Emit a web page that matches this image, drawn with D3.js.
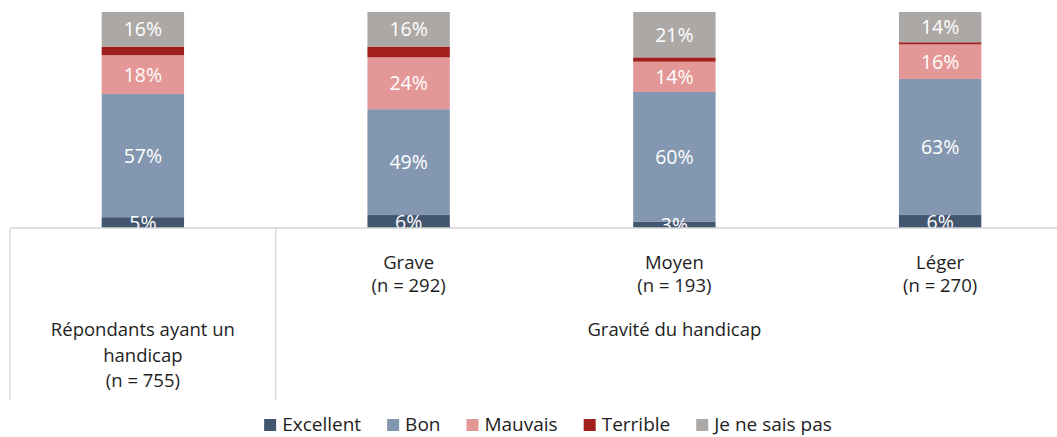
<!DOCTYPE html>
<html>
<head>
<meta charset="utf-8">
<script src="https://cdn.jsdelivr.net/npm/d3@7/dist/d3.min.js"></script>
<style>
  html, body { margin: 0; padding: 0; background: #fff; }
  svg { display: block; }
  text { font-family: "Open Sans", "Liberation Sans", sans-serif; }
</style>
</head>
<body>
<svg id="chart" width="1057" height="437"></svg>
<script>
const categories = ["Répondants", "Grave", "Moyen", "Léger"];
const categoryLines = [
  [],
  ["Grave", "(n = 292)"],
  ["Moyen", "(n = 193)"],
  ["Léger", "(n = 270)"]
];
const groupLabelLeft = ["Répondants ayant un", "handicap", "(n = 755)"];
const groupLabelRight = ["Gravité du handicap"];
const seriesNames = ["Excellent", "Bon", "Mauvais", "Terrible", "Je ne sais pas"];
const excellent = [5, 6, 3, 6];
const bon = [57, 49, 60, 63];
const mauvais = [18, 24, 14, 16];
const terrible = [4, 5, 2, 1];
const jeNeSaisPas = [16, 16, 21, 14];
const colors = ["#435670", "#8397b0", "#e39797", "#a11f1d", "#aca8a6"];
const showLabels = [true, true, true, false, true];

const seriesValues = [excellent, bon, mauvais, terrible, jeNeSaisPas];
const rows = categories.map((c, i) => {
  const r = { cat: c };
  seriesNames.forEach((s, k) => r[s] = seriesValues[k][i]);
  return r;
});

const svg = d3.select("#chart");
const axisY = 228;
const x = d3.scaleBand().domain(categories).range([10, 1073]).paddingInner(0).paddingOuter(0);
const y = d3.scaleLinear().domain([0, 100]).range([axisY, 12]);
const barW = x.bandwidth() * 0.31;
const textColor = "#1e1e1e";

const stack = d3.stack().keys(seriesNames);
const stacked = stack(rows);

svg.append("defs").append("clipPath").attr("id", "plotclip")
  .append("rect").attr("x", 0).attr("y", 0).attr("width", 1057).attr("height", axisY);

const plot = svg.append("g").attr("clip-path", "url(#plotclip)");

const layers = plot.selectAll("g.layer").data(stacked).enter().append("g")
  .attr("class", "layer")
  .attr("fill", (d, i) => colors[i]);

layers.selectAll("rect").data(d => d).enter().append("rect")
  .attr("x", d => x(d.data.cat) + x.bandwidth() / 2 - barW / 2)
  .attr("width", barW)
  .attr("y", d => y(d[1]))
  .attr("height", d => y(d[0]) - y(d[1]));

stacked.forEach((layer, i) => {
  if (!showLabels[i]) return;
  plot.append("g").selectAll("text").data(layer).enter().append("text")
    .attr("x", d => x(d.data.cat) + x.bandwidth() / 2)
    .attr("y", d => (y(d[0]) + y(d[1])) / 2)
    .attr("dy", "0.36em")
    .attr("text-anchor", "middle")
    .attr("fill", "#ffffff")
    .attr("font-size", 19.5)
    .text(d => (d[1] - d[0]) + "%");
});

// axis line and group separators
const axisG = svg.append("g");
const xAxis = d3.axisBottom(x).tickSize(0).tickFormat("");
axisG.attr("transform", `translate(0,${axisY})`).call(xAxis);
axisG.select(".domain").attr("stroke", "#d4d4d4").attr("stroke-width", 1.3)
  .attr("d", `M10,0H1057`);

const sepXs = [x.range()[0], x(categories[1])];
svg.selectAll("line.sep").data(sepXs).enter().append("line")
  .attr("class", "sep")
  .attr("x1", d => d).attr("x2", d => d)
  .attr("y1", axisY).attr("y2", 400)
  .attr("stroke", "#d4d4d4").attr("stroke-width", 1.3);

// category labels
categories.forEach((c, i) => {
  categoryLines[i].forEach((line, j) => {
    svg.append("text")
      .attr("x", x(c) + x.bandwidth() / 2)
      .attr("y", 263 + j * 23)
      .attr("dy", "0.35em")
      .attr("text-anchor", "middle")
      .attr("fill", textColor)
      .attr("font-size", 18.5)
      .text(line);
  });
});

groupLabelLeft.forEach((line, j) => {
  svg.append("text")
    .attr("x", x(categories[0]) + x.bandwidth() / 2)
    .attr("y", 330 + j * 25.5)
    .attr("dy", "0.35em")
    .attr("text-anchor", "middle")
    .attr("fill", textColor)
    .attr("font-size", 18.5)
    .text(line);
});
groupLabelRight.forEach((line, j) => {
  svg.append("text")
    .attr("x", (x(categories[1]) + x(categories[3]) + x.bandwidth()) / 2)
    .attr("y", 330 + j * 25.5)
    .attr("dy", "0.35em")
    .attr("text-anchor", "middle")
    .attr("fill", textColor)
    .attr("font-size", 18.5)
    .text(line);
});

// legend
const legend = svg.append("g");
let cx = 0;
const gap = 26;
seriesNames.forEach((s, i) => {
  const g = legend.append("g");
  g.append("rect").attr("x", 0).attr("y", -12).attr("width", 12).attr("height", 12).attr("fill", colors[i]);
  const t = g.append("text").attr("x", 18).attr("y", 0)
    .attr("fill", textColor).attr("font-size", 19).text(s);
  const w = 18 + t.node().getComputedTextLength();
  g.attr("transform", `translate(${cx},0)`);
  cx += w + gap;
});
const totalW = cx - gap;
legend.attr("transform", `translate(${548 - totalW / 2},431)`);
</script>
</body>
</html>
